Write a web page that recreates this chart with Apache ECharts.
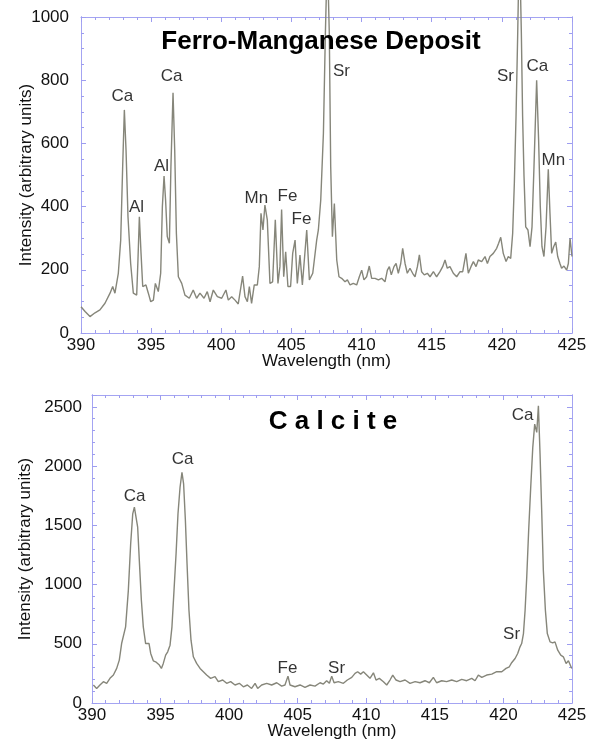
<!DOCTYPE html>
<html>
<head>
<meta charset="utf-8">
<script src="https://cdn.jsdelivr.net/npm/echarts@6/dist/echarts.min.js"></script>
<style>html,body{margin:0;padding:0;background:#fff}#c{width:594px;height:742px}</style>
</head>
<body>
<div id="c"></div>
<script>
// ---- Ferro-Manganese Deposit spectrum ----
const wl1 = [390.0,390.29,390.64,391.0,391.35,391.71,392.07,392.26,392.42,392.66,392.83,392.97,393.09,393.21,393.35,393.54,393.73,393.97,394.06,394.16,394.28,394.4,394.63,394.8,394.97,395.16,395.3,395.51,395.68,395.8,395.92,396.03,396.15,396.3,396.41,396.56,396.68,396.8,396.94,397.18,397.41,397.72,398.0,398.24,398.48,398.77,399.0,399.2,399.43,399.72,400.03,400.33,400.5,400.74,400.98,401.21,401.52,401.69,401.86,402.0,402.16,402.35,402.57,402.71,402.83,402.97,403.11,403.28,403.47,403.66,403.85,404.04,404.18,404.3,404.45,404.59,404.75,404.94,405.09,405.26,405.42,405.61,405.78,406.09,406.28,406.52,406.8,406.92,407.09,407.28,407.42,407.56,407.7,407.8,407.92,408.06,408.23,408.39,408.58,408.82,408.99,409.18,409.41,409.65,409.84,410.01,410.17,410.36,410.55,410.72,410.96,411.2,411.43,411.67,411.84,411.98,412.12,412.31,412.46,412.62,412.79,412.93,413.1,413.26,413.45,413.64,413.81,413.98,414.12,414.28,414.47,414.69,414.88,415.12,415.35,415.59,415.78,415.95,416.11,416.3,416.54,416.78,417.02,417.21,417.44,417.61,417.8,417.97,418.16,418.32,418.56,418.8,418.97,419.15,419.39,419.63,419.77,419.92,420.1,420.3,420.46,420.63,420.77,420.89,421.01,421.13,421.25,421.39,421.48,421.58,421.7,421.86,422.01,422.15,422.29,422.48,422.62,422.74,422.86,423.0,423.15,423.31,423.43,423.55,423.69,423.84,423.98,424.14,424.26,424.43,424.62,424.74,424.86,425.0];
const int1 = [83,68,52,64,73,94,126,147,126,189,294,526,706,579,368,220,126,120,231,368,252,147,152,126,99,104,157,131,189,400,497,421,305,284,526,760,579,315,178,157,120,110,136,110,126,110,131,99,136,115,110,136,104,115,104,92,180,115,99,147,94,152,152,210,379,326,405,358,157,162,358,157,210,391,178,257,147,147,252,294,157,247,152,326,168,189,294,326,421,632,948,1200,948,526,305,410,231,178,173,162,168,152,157,152,178,199,168,178,212,173,173,168,173,162,199,210,184,210,220,189,220,268,220,189,205,189,178,210,247,194,184,189,178,194,178,194,210,231,205,210,189,178,194,194,252,189,210,226,210,231,226,242,220,242,252,268,284,303,252,226,242,236,315,474,685,948,1250,948,685,495,336,326,273,336,526,800,611,400,273,242,336,518,379,252,273,288,242,220,205,212,199,220,300,242];

// ---- Calcite spectrum ----
const wl2 = [390.1,390.34,390.58,390.83,391.07,391.31,391.56,391.8,391.99,392.16,392.28,392.45,392.65,392.82,392.97,393.09,393.21,393.33,393.45,393.6,393.74,393.91,394.03,394.16,394.28,394.47,394.64,394.76,394.91,395.06,395.2,395.37,395.52,395.69,395.83,395.98,396.13,396.27,396.42,396.56,396.68,396.81,396.93,397.07,397.22,397.39,397.63,397.88,398.12,398.36,398.65,398.97,399.21,399.53,399.82,400.11,400.43,400.74,401.04,401.33,401.64,401.89,402.08,402.37,402.74,403.1,403.47,403.83,404.07,404.29,404.44,404.8,405.17,405.53,405.9,406.26,406.63,406.87,407.11,407.31,407.48,407.65,407.96,408.33,408.62,408.94,409.18,409.37,409.59,409.79,410.03,410.27,410.52,410.71,410.95,411.25,411.49,411.73,411.93,412.17,412.46,412.83,413.19,413.56,413.92,414.28,414.6,414.89,415.13,415.5,415.86,416.23,416.59,416.96,417.32,417.69,417.93,418.17,418.42,418.78,419.15,419.51,419.88,420.19,420.43,420.6,420.85,421.04,421.21,421.33,421.46,421.58,421.7,421.84,421.99,422.14,422.28,422.43,422.55,422.67,422.79,422.91,423.06,423.2,423.4,423.59,423.76,423.96,424.18,424.37,424.57,424.74,424.98];
const int2 = [152,123,152,180,166,208,236,292,362,502,516,643,951,1344,1597,1653,1639,1484,1204,867,643,502,488,502,418,356,348,362,320,292,334,404,432,488,643,951,1260,1597,1821,1947,1849,1540,1176,783,530,390,334,292,264,236,208,222,180,194,166,180,152,166,137,152,123,166,123,152,166,152,171,143,152,227,152,137,152,132,152,143,171,160,188,166,227,171,180,166,194,216,250,264,244,264,236,208,255,194,208,180,152,194,236,194,180,194,166,180,171,188,171,216,171,188,180,194,180,199,188,208,188,236,216,236,244,264,264,292,306,340,376,418,474,502,586,783,1063,1456,1821,2158,2354,2284,2508,2102,1625,1120,783,586,516,508,516,446,404,390,334,356,292];

// ---- Peak labels: element, anchor [wavelength, intensity] ----
const labels1 = [
  ['Ca', 392.99, 747], ['Al', 393.99, 396], ['Al', 395.77, 525], ['Ca', 396.49, 810],
  ['Mn', 402.54, 424], ['Fe', 404.75, 430], ['Fe', 405.75, 358], ['Sr', 408.6, 826],
  ['Sr', 420.29, 810], ['Ca', 422.57, 842], ['Mn', 423.71, 544]
];
const labels2 = [
  ['Ca', 393.14, 1742], ['Ca', 396.64, 2054], ['Fe', 404.29, 286], ['Sr', 407.87, 286],
  ['Sr', 420.63, 572], ['Ca', 421.43, 2424]
];

const titles = ['Ferro-Manganese Deposit', 'C a l c i t e'];
const xName = 'Wavelength (nm)';
const yName = 'Intensity (arbitrary units)';

const AX = '#a4a4f2';
const TICK = '#9d9df0';
const LINE = '#86867a';
const FONT = '"Liberation Sans", Arial, sans-serif';
const TXT = { fontSize: 17, color: '#111', fontFamily: FONT };
const GRIDS = [
  { left: 81, top: 17, width: 491, height: 316 },
  { left: 92, top: 395, width: 480, height: 308 }
];

function xLab(grid) {
  return {
    type: 'value', gridIndex: grid, position: 'bottom', min: 390, max: 425, interval: 5,
    axisLine: { show: true, onZero: false, lineStyle: { color: AX, width: 1 } },
    axisTick: { show: true, inside: true, length: 5, lineStyle: { color: TICK, width: 1 } },
    minorTick: { show: true, splitNumber: 5, length: 3, lineStyle: { color: TICK, width: 1 } },
    splitLine: { show: false },
    axisLabel: Object.assign({ show: true, margin: 4, formatter: v => String(v) }, TXT),
    name: xName, nameLocation: 'middle', nameGap: 20, nameMoveOverlap: false,
    nameTextStyle: TXT
  };
}
function xTop(grid) {
  return {
    type: 'value', gridIndex: grid, position: 'top', min: 390, max: 425, interval: 5,
    axisLine: { show: true, onZero: false, lineStyle: { color: AX, width: 1 } },
    axisTick: { show: true, inside: true, length: 5, lineStyle: { color: TICK, width: 1 } },
    minorTick: { show: true, splitNumber: 5, length: 3, lineStyle: { color: TICK, width: 1 } },
    splitLine: { show: false }, axisLabel: { show: false }
  };
}
function yLab(grid, max, interval, gap, margin) {
  return {
    type: 'value', gridIndex: grid, position: 'left', min: 0, max: max, interval: interval,
    axisLine: { show: true, onZero: false, lineStyle: { color: AX, width: 1 } },
    axisTick: { show: false }, splitLine: { show: false },
    axisLabel: Object.assign({ show: true, margin: margin, showMaxLabel: max % interval === 0,
      formatter: v => String(v) }, TXT),
    name: yName, nameLocation: 'middle', nameGap: gap, nameMoveOverlap: false,
    nameTextStyle: TXT
  };
}
function yTick(grid, pos, max, interval, len) {
  return {
    type: 'value', gridIndex: grid, position: pos, min: 0, max: max, interval: interval,
    axisLine: { show: true, onZero: false, lineStyle: { color: AX, width: 1 } },
    axisTick: { show: true, inside: true, length: len, lineStyle: { color: TICK, width: 1 } },
    splitLine: { show: false }, axisLabel: { show: false }
  };
}
function labelSeries(list, xi, yi) {
  return {
    type: 'scatter', xAxisIndex: xi, yAxisIndex: yi, symbolSize: 1, silent: true,
    itemStyle: { color: 'transparent' }, clip: false,
    label: { show: true, position: [0, 0], align: 'center', verticalAlign: 'middle',
      formatter: '{b}', fontSize: 17, color: '#000', fontFamily: FONT, textBorderWidth: 0 },
    data: list.map(d => ({ name: d[0], value: [d[1], d[2]] }))
  };
}

const option = {
  animation: false,
  backgroundColor: '#fff',
  grid: GRIDS,
  xAxis: [xLab(0), xTop(0), xLab(1), xTop(1)],
  yAxis: [
    yLab(0, 1000, 200, 46, 12),
    yTick(0, 'left', 1000, 50, 3), yTick(0, 'left', 1000, 200, 5),
    yTick(0, 'right', 1000, 50, 3), yTick(0, 'right', 1000, 200, 5),
    yLab(1, 2600, 500, 58, 10),
    yTick(1, 'left', 2600, 100, 3), yTick(1, 'left', 2600, 500, 5),
    yTick(1, 'right', 2600, 100, 3), yTick(1, 'right', 2600, 500, 5)
  ],
  graphic: [
    { type: 'text', x: 321, y: 42, z: 100,
      style: { text: titles[0], font: 'bold 26px ' + FONT, fill: '#000', align: 'center', verticalAlign: 'middle' } },
    { type: 'text', x: 333, y: 422, z: 100,
      style: { text: titles[1], font: 'bold 26px ' + FONT, fill: '#000', align: 'center', verticalAlign: 'middle' } }
  ],
  series: [
    { type: 'line', xAxisIndex: 0, yAxisIndex: 0, showSymbol: false, clip: false, silent: true,
      lineStyle: { color: LINE, width: 1.4 }, data: wl1.map((x, i) => [x, int1[i]]) },
    { type: 'line', xAxisIndex: 2, yAxisIndex: 5, showSymbol: false, clip: false, silent: true,
      lineStyle: { color: LINE, width: 1.4 }, data: wl2.map((x, i) => [x, int2[i]]) },
    labelSeries(labels1, 0, 0),
    labelSeries(labels2, 2, 5)
  ]
};
const chart = echarts.init(document.getElementById('c'), null, { renderer: 'canvas' });
chart.setOption(option);
</script>
</body>
</html>
